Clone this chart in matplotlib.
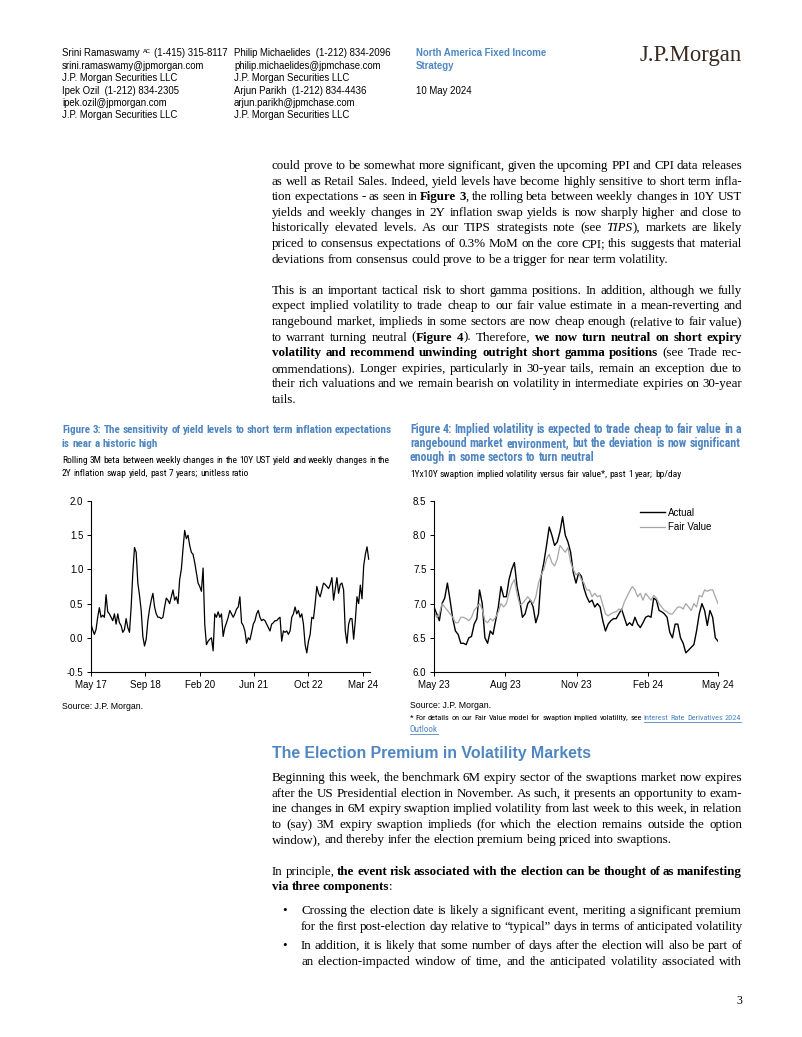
import matplotlib
matplotlib.use('Agg')
import matplotlib.pyplot as plt
from matplotlib import font_manager as fm
from matplotlib.lines import Line2D
import pandas as pd

W, H = 802, 1037
BLUE = '#4f86c1'
SERIF = ['Liberation Serif', 'DejaVu Serif']
SANS = ['Liberation Sans', 'DejaVu Sans']

# Figure 3: rolling 3M beta, 10Y UST vs 2Y inflation swap
beta_3m = [
    0.20, 0.12, 0.05, 0.12, 0.30, 0.44, 0.30, 0.33, 0.30, 0.63,
    0.38, 0.35, 0.30, 0.25, 0.35, 0.20, 0.35, 0.22, 0.18, 0.08,
    0.12, 0.28, 0.15, 0.08, 0.45, 0.95, 1.32, 1.25, 0.80, 0.62,
    0.40, 0.02, -0.12, -0.02, 0.25, 0.42, 0.55, 0.65, 0.45, 0.35,
    0.30, 0.30, 0.28, 0.30, 0.45, 0.58, 0.55, 0.50, 0.60, 0.70,
    0.55, 0.60, 0.50, 0.85, 1.00, 1.30, 1.57, 1.45, 1.50, 1.35,
    1.25, 1.22, 1.10, 0.95, 0.80, 0.75, 0.68, 1.02, 0.20, -0.10,
    -0.05, -0.02, 0.00, -0.19, 0.35, 0.30, 0.38, 0.30, 0.35, 0.02,
    0.15, 0.22, 0.30, 0.40, 0.35, 0.30, 0.35, 0.42, 0.45, 0.60,
    0.22, 0.18, 0.10, -0.08, 0.00, -0.03, 0.08, 0.20, 0.25, 0.35,
    0.40, 0.30, 0.25, 0.27, 0.25, 0.20, 0.15, 0.10, 0.20, 0.22,
    0.25, 0.25, 0.28, 0.30, -0.05, 0.10, 0.08, 0.10, 0.05, 0.10,
    0.30, 0.35, 0.45, 0.35, 0.40, 0.30, 0.35, 0.20, -0.10, -0.22,
    -0.05, 0.05, 0.30, 0.28, 0.50, 0.75, 0.65, 0.60, 0.70, 0.80,
    0.78, 0.75, 0.72, 0.78, 0.88, 0.55, 0.72, 0.88, 0.65, 0.78,
    0.80, 0.70, 0.10, -0.08, 0.20, 0.28, 0.28, -0.02, 0.25, 0.60,
    0.50, 0.77, 0.57, 1.05, 1.22, 1.33, 1.15,
]
beta_start, beta_end = '2017-05-05', '2024-04-28'
beta_xticks = ['2017-05-05', '2018-09-16', '2020-01-28', '2021-06-10', '2022-10-22', '2024-03-04']
beta_xlabels = ['May 17', 'Sep 18', 'Feb 20', 'Jun 21', 'Oct 22', 'Mar 24']
beta_yticks = [-0.5, 0.0, 0.5, 1.0, 1.5, 2.0]

# Figure 4: 1Yx10Y swaption implied vol vs fair value, bp/day
vol_actual = [
    6.95, 6.85, 6.75, 7.00, 7.08, 7.30, 7.05, 6.78, 6.60, 6.55,
    6.42, 6.42, 6.40, 6.50, 6.52, 6.70, 6.78, 7.20, 7.00, 6.50,
    6.42, 6.60, 6.55, 6.75, 6.95, 7.25, 7.10, 7.10, 7.35, 7.50,
    7.60, 7.25, 7.05, 6.80, 6.85, 7.00, 7.05, 6.95, 6.72, 6.85,
    7.40, 7.60, 7.85, 8.12, 8.00, 7.85, 7.90, 8.05, 8.27, 8.00,
    7.90, 7.75, 7.45, 7.30, 7.45, 7.40, 7.22, 7.10, 7.02, 7.05,
    6.95, 7.00, 6.95, 6.75, 6.60, 6.70, 6.75, 6.78, 6.78, 6.85,
    6.92, 6.80, 6.68, 6.72, 6.68, 6.80, 6.70, 6.65, 6.72, 6.80,
    6.82, 6.80, 7.08, 7.05, 6.90, 6.88, 6.85, 6.80, 6.58, 6.50,
    6.70, 6.70, 6.50, 6.42, 6.28, 6.32, 6.36, 6.40, 6.60, 6.85,
    7.00, 6.90, 6.68, 6.90, 6.80, 6.50, 6.45,
]
vol_fair = [
    6.90, 6.80, 6.85, 7.00, 6.95, 6.90, 6.85, 6.80, 6.72, 6.72,
    6.80, 6.80, 6.78, 6.75, 6.80, 6.90, 6.95, 7.00, 6.92, 6.75,
    6.72, 6.78, 6.75, 6.80, 6.88, 7.00, 6.95, 7.00, 7.15, 7.28,
    7.35, 7.15, 6.98, 7.00, 7.05, 7.10, 7.05, 7.00, 7.10, 7.30,
    7.42, 7.50, 7.65, 7.72, 7.60, 7.55, 7.65, 7.85, 7.80, 7.75,
    7.82, 7.60, 7.50, 7.42, 7.45, 7.35, 7.30, 7.20, 7.20, 7.10,
    7.15, 7.10, 7.12, 6.98, 6.85, 6.82, 6.85, 6.87, 6.88, 6.92,
    6.90, 7.02, 7.10, 7.18, 7.25, 7.20, 7.10, 7.15, 7.05, 7.15,
    7.10, 7.05, 7.12, 7.08, 7.00, 6.95, 6.90, 6.88, 6.85, 6.85,
    6.90, 6.95, 6.95, 6.92, 7.00, 6.95, 6.90, 7.00, 6.95, 7.12,
    7.10, 7.20, 7.18, 7.20, 7.20, 7.10, 7.00,
]
vol_start, vol_end = '2023-05-10', '2024-05-10'
vol_xticks = ['2023-05-10', '2023-08-10', '2023-11-10', '2024-02-10', '2024-05-10']
vol_xlabels = ['May 23', 'Aug 23', 'Nov 23', 'Feb 24', 'May 24']
vol_yticks = [6.0, 6.5, 7.0, 7.5, 8.0, 8.5]


# condensed sans for the chart captions, only if it also comes in bold
def wnum(w):
    return w if isinstance(w, int) else fm.weight_dict.get(w, 400)


cands = {}
for f in fm.fontManager.ttflist:
    if 'Narrow' in f.name or 'Condensed' in f.name:
        cands.setdefault(f.name, set()).add(wnum(f.weight))
pref = ['Liberation Sans Narrow', 'Roboto Condensed', 'Open Sans Condensed', 'Noto Sans Condensed']
pref += sorted(cands)
NARROW = SANS
for name in pref:
    ws = cands.get(name)
    if ws and max(ws) >= 700 and min(ws) <= 500:
        NARROW = [name] + SANS
        break

plt.rcParams['font.family'] = SANS
fig = plt.figure(figsize=(W / 100, H / 100), dpi=100)
fig.patch.set_facecolor('white')
rend = fig.canvas.get_renderer()


def fx(x):
    return x / W


def fy(y):
    return 1 - y / H


def width(t):
    return t.get_window_extent(rend).width


def txt(x, y, s, size, family=SANS, weight='normal', color='black', ha='left', style='normal'):
    return fig.text(fx(x), fy(y), s, fontsize=size, family=family, weight=weight,
                    color=color, ha=ha, va='baseline', style=style)


def fit(x, y, s, target, family, weight='normal', color='black'):
    t = txt(x, y, s, 10, family, weight, color)
    t.set_fontsize(10 * target / width(t))
    return t


def put_line(x0, x1, y, segs, size, family=SERIF, justify=True, color='black', spacefac=0.25):
    # split segments into words; a word may mix styles (e.g. "TIPS),")
    words = []
    for s, st in segs:
        for i, p in enumerate(s.split(' ')):
            if i > 0 or not words:
                words.append([])
            if p:
                words[-1].append((p, st))
    words = [w for w in words if w]

    def build(sz):
        out = []
        for w in words:
            pcs = []
            for p, st in w:
                t = txt(0, y, p, sz, family,
                        'bold' if 'b' in st else 'normal',
                        BLUE if 'l' in st else color,
                        style='italic' if 'i' in st else 'normal')
                pcs.append((t, width(t), 'l' in st))
            out.append(pcs)
        return out

    arts = build(size)
    avail = x1 - x0
    tot = sum(p[1] for w in arts for p in w)
    sp = spacefac * size * 100 / 72
    if tot + sp * (len(arts) - 1) > avail:
        for w in arts:
            for p in w:
                p[0].remove()
        size = size * avail / (tot + sp * (len(arts) - 1))
        arts = build(size)
        tot = sum(p[1] for w in arts for p in w)
        sp = spacefac * size * 100 / 72
    gap = (avail - tot) / (len(arts) - 1) if (justify and len(arts) > 1) else sp
    x = x0
    lx0 = lx1 = None
    for w in arts:
        for t, wd, link in w:
            t.set_position((fx(x), fy(y)))
            if link:
                lx0 = x if lx0 is None else lx0
                lx1 = x + wd
            x += wd
        x += gap
    if lx0 is not None:
        fig.add_artist(Line2D([fx(lx0), fx(lx1)], [fy(y + 1.5)] * 2,
                              transform=fig.transFigure, color=BLUE, lw=0.6))
    return size


# ---- header ----
hs = 6.9
t = txt(62, 56, 'Srini Ramaswamy', hs)
xa = 62 + width(t) + 3
t2 = txt(xa, 53, 'AC', 4.2)
txt(xa + width(t2) + 3, 56, '(1-415) 315-8117', hs)
col1 = ['srini.ramaswamy@jpmorgan.com', 'J.P. Morgan Securities LLC',
        'Ipek Ozil  (1-212) 834-2305', 'ipek.ozil@jpmorgan.com', 'J.P. Morgan Securities LLC']
col2 = ['Philip Michaelides  (1-212) 834-2096', 'philip.michaelides@jpmchase.com',
        'J.P. Morgan Securities LLC', 'Arjun Parikh  (1-212) 834-4436',
        'arjun.parikh@jpmchase.com', 'J.P. Morgan Securities LLC']
ys = [56, 69, 81, 94, 106, 118]
for s, y in zip(col1, ys[1:]):
    txt(62, y, s, hs)
for s, y in zip(col2, ys):
    txt(234, y, s, hs)
txt(416, 56, 'North America Fixed Income', hs, weight='bold', color=BLUE)
txt(416, 69, 'Strategy', hs, weight='bold', color=BLUE)
txt(416, 94, '10 May 2024', hs)
fit(640, 61, 'J.P.Morgan', 102, SERIF, color='#3a2a20')

# ---- body text ----
BS = 9.4
LS = 15.6
p1 = [
    [('could prove to be somewhat more significant, given the upcoming PPI and CPI data releases', 'n')],
    [('as well as Retail Sales. Indeed, yield levels have become highly sensitive to short term infla-', 'n')],
    [('tion expectations - as seen in ', 'n'), ('Figure 3', 'b'), (', the rolling beta between weekly changes in 10Y UST', 'n')],
    [('yields and weekly changes in 2Y inflation swap yields is now sharply higher and close to', 'n')],
    [('historically elevated levels. As our TIPS strategists note (see ', 'n'), ('TIPS', 'i'), ('), markets are likely', 'n')],
    [('priced to consensus expectations of 0.3% MoM on the core CPI; this suggests that material', 'n')],
    [('deviations from consensus could prove to be a trigger for near term volatility.', 'n')],
]
p2 = [
    [('This is an important tactical risk to short gamma positions. In addition, although we fully', 'n')],
    [('expect implied volatility to trade cheap to our fair value estimate in a mean-reverting and', 'n')],
    [('rangebound market, implieds in some sectors are now cheap enough (relative to fair value)', 'n')],
    [('to warrant turning neutral (', 'n'), ('Figure 4', 'b'), ('). Therefore, ', 'n'), ('we now turn neutral on short expiry', 'b')],
    [('volatility and recommend unwinding outright short gamma positions', 'b'), (' (see Trade rec-', 'n')],
    [('ommendations). Longer expiries, particularly in 30-year tails, remain an exception due to', 'n')],
    [('their rich valuations and we remain bearish on volatility in intermediate expiries on 30-year', 'n')],
    [('tails.', 'n')],
]
y = 165 + 4
for i, segs in enumerate(p1):
    put_line(272, 742, y, segs, BS, justify=i < len(p1) - 1, spacefac=0.22)
    y += LS
y += LS
for i, segs in enumerate(p2):
    put_line(272, 742, y, segs, BS, justify=i < len(p2) - 1, spacefac=0.22)
    y += LS

fit(272, 758, 'The Election Premium in Volatility Markets', 318, SANS, 'bold', BLUE)
p3 = [
    [('Beginning this week, the benchmark 6M expiry sector of the swaptions market now expires', 'n')],
    [('after the US Presidential election in November. As such, it presents an opportunity to exam-', 'n')],
    [('ine changes in 6M expiry swaption implied volatility from last week to this week, in relation', 'n')],
    [('to (say) 3M expiry swaption implieds (for which the election remains outside the option', 'n')],
    [('window), and thereby infer the election premium being priced into swaptions.', 'n')],
]
p4 = [
    [('In principle, ', 'n'), ('the event risk associated with the election can be thought of as manifesting', 'b')],
    [('via three components', 'b'), (':', 'n')],
]
y = 777 + 4
for i, segs in enumerate(p3):
    put_line(272, 742, y, segs, BS, justify=i < len(p3) - 1, spacefac=0.22)
    y += LS
y += LS
for i, segs in enumerate(p4):
    put_line(272, 742, y, segs, BS, justify=i < len(p4) - 1, spacefac=0.22)
    y += LS

bullets = [
    ['Crossing the election date is likely a significant event, meriting a significant premium',
     'for the first post-election day relative to \u201ctypical\u201d days in terms of anticipated volatility'],
    ['In addition, it is likely that some number of days after the election will also be part of',
     'an election-impacted window of time, and the anticipated volatility associated with'],
]
y = 910 + 4
for b in bullets:
    txt(282, y, '\u2022', BS, SERIF)
    for s in b:
        put_line(301, 742, y, [(s, 'n')], BS, spacefac=0.22)
        y += LS
    y += 4
txt(742, 1004, '3', 8.5, SERIF, ha='right')

# ---- chart titles ----
kw = dict(family=NARROW, spacefac=0.22)
ts = put_line(62, 392, 433, [('Figure 3: The sensitivity of yield levels to short term inflation expectations', 'b')],
              9, color=BLUE, **kw)
put_line(62, 392, 447, [('is near a historic high', 'b')], ts, justify=False, color=BLUE, **kw)
ss = put_line(62, 390, 463, [('Rolling 3M beta between weekly changes in the 10Y UST yield and weekly changes in the', 'n')],
              8, **kw)
put_line(62, 390, 476, [('2Y inflation swap yield, past 7 years; unitless ratio', 'n')], ss, justify=False, **kw)

ts = put_line(410, 741, 433, [('Figure 4: Implied volatility is expected to trade cheap to fair value in a', 'b')],
              9, color=BLUE, **kw)
put_line(410, 741, 447, [('rangebound market environment, but the deviation is now significant', 'b')],
         ts, color=BLUE, **kw)
put_line(410, 741, 461, [('enough in some sectors to turn neutral', 'b')], ts, justify=False, color=BLUE, **kw)
put_line(410, 741, 477, [('1Yx10Y swaption implied volatility versus fair value*, past 1 year; bp/day', 'n')],
         ss, justify=False, **kw)

fs = 6.3
txt(62, 709, 'Source: J.P. Morgan.', fs)
txt(410, 708, 'Source: J.P. Morgan.', fs)
put_line(410, 741, 720, [('* For details on our Fair Value model for swaption implied volatility, see ', 'n'),
                         ('Interest Rate Derivatives 2024', 'l')], 6.6, **kw)
put_line(410, 741, 732, [('Outlook', 'l')], 6.6, justify=False, **kw)


# ---- charts ----
def style_axes(ax):
    for s in ['top', 'right']:
        ax.spines[s].set_visible(False)
    for s in ['left', 'bottom']:
        ax.spines[s].set_linewidth(0.8)
    ax.tick_params(direction='out', length=3, width=0.7, labelsize=7.0, pad=2.5)


ax1 = fig.add_axes([fx(91), fy(672), (370 - 91) / W, (672 - 501) / H])
d1 = pd.date_range(beta_start, beta_end, periods=len(beta_3m))
ax1.plot(d1, beta_3m, color='black', lw=0.9)
ax1.set_xlim(pd.Timestamp(beta_start), pd.Timestamp('2024-05-10'))
ax1.set_ylim(-0.5, 2.0)
ax1.set_yticks(beta_yticks)
ax1.set_yticklabels([f'{v:.1f}' for v in beta_yticks])
ax1.set_xticks(pd.to_datetime(beta_xticks))
ax1.set_xticklabels(beta_xlabels)
style_axes(ax1)

ax2 = fig.add_axes([fx(434), fy(672), (718 - 434) / W, (672 - 501) / H])
d2 = pd.date_range(vol_start, vol_end, periods=len(vol_actual))
ax2.plot(d2, vol_actual, color='black', lw=1.0, label='Actual')
ax2.plot(d2, vol_fair, color='#a6a6a6', lw=0.9, label='Fair Value')
ax2.set_xlim(pd.Timestamp(vol_start), pd.Timestamp(vol_end))
ax2.set_ylim(6.0, 8.5)
ax2.set_yticks(vol_yticks)
ax2.set_yticklabels([f'{v:.1f}' for v in vol_yticks])
ax2.set_xticks(pd.to_datetime(vol_xticks))
ax2.set_xticklabels(vol_xlabels)
style_axes(ax2)
ax2.legend(loc='upper left', bbox_to_anchor=(0.70, 1.0), frameon=False, fontsize=7.0,
           handlelength=2.6, handletextpad=0.3, labelspacing=0.45, borderpad=0.2)

fig.savefig('out.png', dpi=100, facecolor='white')
